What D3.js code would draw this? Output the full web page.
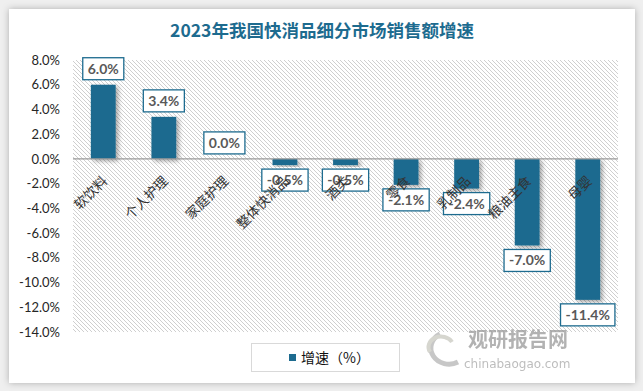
<!DOCTYPE html>
<html><head><meta charset="utf-8">
<script src="https://cdn.jsdelivr.net/npm/d3@7/dist/d3.min.js"></script>
<style>
html,body{margin:0;padding:0;background:#efefef;}
svg{display:block;}
</style></head>
<body>
<script>
const title = "2023年我国快消品细分市场销售额增速";
const categories = ["软饮料","个人护理","家庭护理","整体快消品","酒类","零食","乳制品","粮油主食","母婴"];
const growth = [6.0, 3.4, 0.0, -0.5, -0.5, -2.1, -2.4, -7.0, -11.4];
const yTicks = [8,6,4,2,0,-2,-4,-6,-8,-10,-12,-14];
const legendLabel = "增速（%）";

const W = 643, H = 391;
const blue = "#1d6b8f";
const svg = d3.select("body").append("svg").attr("width", W).attr("height", H);
const defs = svg.append("defs");

const cardF = defs.append("filter").attr("id","cardShadow").attr("x","-5%").attr("y","-5%").attr("width","110%").attr("height","110%");
cardF.append("feDropShadow").attr("dx",0).attr("dy",0).attr("stdDeviation",3.5).attr("flood-color","#000").attr("flood-opacity",0.28);

const barF = defs.append("filter").attr("id","barShadow").attr("x","-30%").attr("y","-10%").attr("width","170%").attr("height","130%");
barF.append("feDropShadow").attr("dx",2.5).attr("dy",2).attr("stdDeviation",2).attr("flood-color","#000").attr("flood-opacity",0.35);

const pat = defs.append("pattern").attr("id","hatch").attr("patternUnits","userSpaceOnUse").attr("width",4).attr("height",4);
pat.append("rect").attr("width",4).attr("height",4).attr("fill","#fff");
pat.append("path").attr("d","M-1,-1 L5,5 M3,-1 L5,1 M-1,3 L1,5").attr("stroke","#cfcfcf").attr("stroke-width",1);

// card
svg.append("rect").attr("x",9).attr("y",9).attr("width",626).attr("height",374).attr("fill","#fff").attr("filter","url(#cardShadow)");

// title
svg.append("text").attr("x",322).attr("y",37).attr("text-anchor","middle")
  .attr("font-family","'Noto Sans CJK SC'").attr("font-weight","bold").attr("font-size",17.5)
  .attr("fill",blue).text(title);

const plot = {left:73, right:618, top:60, bottom:332};
const x = d3.scaleBand().domain(categories).range([plot.left, plot.right]).paddingInner(0.59).paddingOuter(0.295);
const y = d3.scaleLinear().domain([-14, 8]).range([plot.bottom, plot.top]);

// hatched plot area
svg.append("rect").attr("x",plot.left).attr("y",plot.top).attr("width",plot.right-plot.left).attr("height",plot.bottom-plot.top).attr("fill","url(#hatch)");

// y axis
const yAxis = d3.axisLeft(y).tickValues(yTicks).tickFormat(d => d.toFixed(1) + "%").tickSize(0).tickPadding(0);
const yg = svg.append("g").attr("transform","translate(60,0)").call(yAxis);
yg.select(".domain").remove();
yg.selectAll("text").attr("font-family","Lato").attr("font-size",13).attr("fill","#262626");

// bars
svg.append("g").selectAll("rect").data(categories).join("rect")
  .attr("x", d => x(d))
  .attr("width", x.bandwidth())
  .attr("y", (d,i) => y(Math.max(0, growth[i])))
  .attr("height", (d,i) => Math.abs(y(growth[i]) - y(0)))
  .attr("fill", blue)
  .attr("filter","url(#barShadow)");

// zero line
svg.append("line").attr("x1",plot.left).attr("x2",plot.right).attr("y1",y(0)).attr("y2",y(0))
  .attr("stroke","#9a9a9a").attr("stroke-width",1.2);

// data labels
const lg = svg.append("g");
categories.forEach((c, i) => {
  const v = growth[i];
  const g = lg.append("g");
  const t = g.append("text").attr("font-family","Lato").attr("font-weight","bold").attr("font-size",14)
    .attr("fill","#595959").attr("text-anchor","middle").text(v.toFixed(1) + "%");
  const tw = t.node().getComputedTextLength();
  const bw = tw + 10, bh = 22;
  const cx = x(c) + x.bandwidth()/2;
  const top = v >= 0 ? y(v) - 5 - bh : y(v) + 4;
  g.insert("rect","text").attr("x", cx - bw/2).attr("y", top).attr("width", bw).attr("height", bh)
    .attr("fill","#fff").attr("stroke", blue).attr("stroke-width",1.3);
  t.attr("x", cx).attr("y", top + bh/2 + 5);
});

// category labels (drawn over the data label boxes, as in the reference)
svg.append("g").selectAll("text").data(categories).join("text")
  .attr("transform", d => `translate(${x(d) + x.bandwidth()/2 + 5},${y(0) + 23}) rotate(-45)`)
  .attr("text-anchor","end")
  .attr("font-family","'Noto Sans CJK SC'").attr("font-size",13.5).attr("fill","#333")
  .text(d => d);

// legend
svg.append("rect").attr("x",251.5).attr("y",343.5).attr("width",148).attr("height",28)
  .attr("fill","#fff").attr("stroke","#d9d9d9").attr("stroke-width",1);
svg.append("rect").attr("x",289).attr("y",354).attr("width",7).attr("height",7).attr("fill",blue);
svg.append("text").attr("x",301).attr("y",363).attr("font-family","'Noto Sans CJK SC'").attr("font-size",14)
  .attr("fill","#111").text(legendLabel);

// watermark
const wm = svg.append("g").attr("opacity",0.75);
wm.append("path").attr("d","M440,334 A18,16 0 1,0 458,362").attr("fill","none").attr("stroke","#b5b5b5").attr("stroke-width",5);
wm.append("path").attr("d","M430,352 A12,10 0 0,1 452,342").attr("fill","none").attr("stroke","#c9c9c0").attr("stroke-width",4);
wm.append("text").attr("x",468).attr("y",347).attr("font-family","'Noto Sans CJK SC'").attr("font-weight","bold")
  .attr("font-size",20).attr("fill","#999").text("观研报告网");
wm.append("text").attr("x",464).attr("y",368).attr("font-family","'DejaVu Sans'").attr("font-size",12)
  .attr("fill","#a8a8a8").text("chinabaogao.com");
</script>
</body></html>
